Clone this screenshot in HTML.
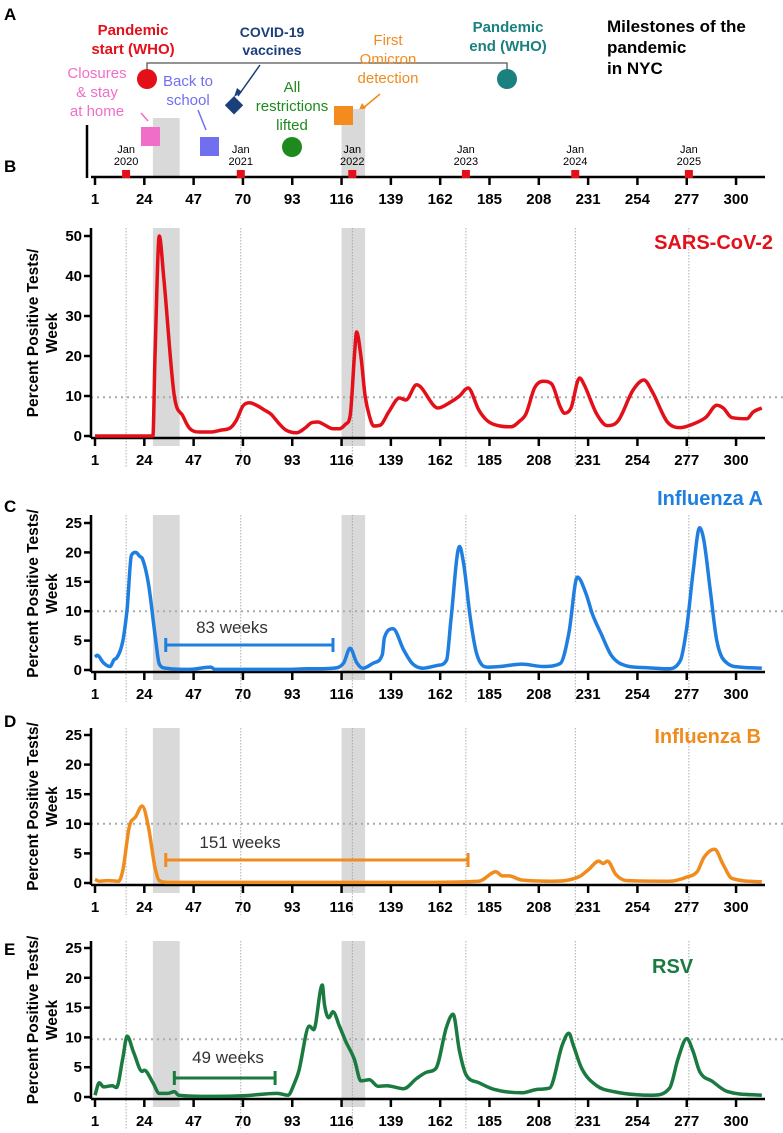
<!DOCTYPE html>
<html><head><meta charset="utf-8"><style>
body{margin:0;background:#fff;}
svg{display:block;font-family:"Liberation Sans",Arial,sans-serif;}
</style></head><body>
<svg id="fig" width="783" height="1133" viewBox="0 0 783 1133" xmlns="http://www.w3.org/2000/svg">
<g id="timeline">
<text x="4" y="20" font-size="17" font-weight="bold">A</text>
<text x="4" y="172" font-size="17" font-weight="bold">B</text>
<text x="607" y="32" font-size="17" font-weight="bold"><tspan x="607">Milestones of the</tspan><tspan x="607" dy="21">pandemic</tspan><tspan x="607" dy="21">in NYC</tspan></text>
<path d="M147 70 V63 H507 V70" stroke="#555" stroke-width="1.3" fill="none"/>
<text x="133" y="35" font-size="15" font-weight="bold" fill="#e3101a" text-anchor="middle"><tspan x="133">Pandemic</tspan><tspan x="133" dy="19">start (WHO)</tspan></text>
<circle cx="147" cy="79" r="10" fill="#e3101a"/>
<text x="508" y="32" font-size="15" font-weight="bold" fill="#1a8080" text-anchor="middle"><tspan x="508">Pandemic</tspan><tspan x="508" dy="19">end (WHO)</tspan></text>
<circle cx="507" cy="79" r="10" fill="#1a8080"/>
<text x="272" y="37" font-size="14" font-weight="bold" fill="#1a3f7a" text-anchor="middle"><tspan x="272">COVID-19</tspan><tspan x="272" dy="18">vaccines</tspan></text>
<path d="M260 65 L238 96" stroke="#1a3f7a" stroke-width="1.5" fill="none"/>
<path d="M234 97 l3 -9 l5 4 z" fill="#1a3f7a"/>
<rect x="227" y="99" width="13" height="13" fill="#1a3f7a" transform="rotate(45 234 106)"/>
<text x="388" y="45" font-size="15" fill="#f08c1e" text-anchor="middle"><tspan x="388">First</tspan><tspan x="388" dy="19">Omicron</tspan><tspan x="388" dy="19">detection</tspan></text>
<path d="M380 94 L362 109" stroke="#f08c1e" stroke-width="1.5"/>
<path d="M358 112 l4 -9 l4 5 z" fill="#f08c1e"/>
<text x="97" y="78" font-size="15" fill="#f06ec8" text-anchor="middle"><tspan x="97">Closures</tspan><tspan x="97" dy="19">&amp; stay</tspan><tspan x="97" dy="19">at home</tspan></text>
<path d="M141 113 L148 121" stroke="#f06ec8" stroke-width="1.5"/>
<text x="188" y="86" font-size="15" fill="#6f6ff0" text-anchor="middle"><tspan x="188">Back to</tspan><tspan x="188" dy="19">school</tspan></text>
<path d="M198 110 L206 130" stroke="#6f6ff0" stroke-width="1.5"/>
<text x="292" y="92" font-size="15" fill="#1e8a1e" text-anchor="middle"><tspan x="292">All</tspan><tspan x="292" dy="19">restrictions</tspan><tspan x="292" dy="19">lifted</tspan></text>
</g>
</svg>
<script>
const weeksSars=[1,28,29,31,33,38,42,45,50,55,60,64,67,70,73,77,80,83,87,90,95,99,102,105,108,112,115,118,120,122,123,125,127,129,131,134,138,143,146,151,159.6,161,166,171,175,180,184,190,195,199,202,206,210,214,218,220,223,227,229,235,240,245,252,257,261,268,274,280,286,291,294,298,305,308,312];
const valuesSars=[0,0,20,50,40,10,5,2,1,1,1.5,2,4,7.5,8.3,7.5,6.5,5.5,3,1.5,0.8,2,3.3,3.5,2.8,1.8,1.8,3,5,20,26,20,10,5,2.5,2.7,6,9.5,9,12.8,7.3,7,8.2,10,12,6.5,3.8,2.5,2.3,3.7,5.5,12,13.7,13,7.3,5.7,7,14.5,13,5.5,2.6,3.8,11.5,14,11,3.5,2.1,3,4.7,7.7,7,4.6,4.3,6,7];
const weeksFluA=[1,2,5,8,10,11,14,16,18,20,22,23,26,29,31,34,45,55,57,70,90,100,112,117,120,123,126,131,135,136,140,145,149,154,161,165,167,171,173,176,179,184,190,200,210,218,222,226,230,233,237,242,249,258,268,274,277,280,283,285,288,291,296,302,312];
const valuesFluA=[2.2,2.5,1.2,0.6,1.8,2,5,10.5,19.5,20,19.3,19,14.5,6,1,0.3,0.1,0.5,0.1,0.1,0.1,0.2,0.3,1.2,3.7,1.3,0.3,1.2,2.6,5.5,7,3.4,1.1,0.3,0.8,1.7,8.5,21,17.9,9,2.8,0.5,0.6,1,0.6,1.1,6.2,15.8,13,9.5,6.2,2.4,0.7,0.4,0.2,1.6,7.2,16.8,24.2,22,13.5,5,1.1,0.5,0.3];
const weeksFluB=[1,3,7,12,14,17,20,23,26,29,31,35,60,100,150,180,188,191,194,200,214,227,231,236,238,240,244,249,269,277,282,285,290,294,298,312];
const valuesFluB=[0.6,0.3,0.4,0.3,2.2,9.5,11.2,13,9.3,2.6,0.4,0.1,0.1,0.1,0.1,0.3,1.9,1.2,1.2,0.5,0.3,1.1,2.2,3.7,3.3,3.7,1.4,0.4,0.3,1,2,4.3,5.7,3.1,0.8,0.2];
const weeksRsv=[1,3,5,9,11,14,16,19,23,24,28,31,35,38,40,55,70,86,91,94,96,101,103,107,108,110,112,115,118,122,125,129,133,137,145,151,156,160,165,168,171,174,180,187,200,208,213,219,222,224,228,235,243,261,269,273,277,280,283,289,296,312];
const valuesRsv=[0.3,2.4,1.7,1.9,1.6,6.6,10.2,7.5,4.3,4.5,2.4,0.6,0.6,0.9,0.3,0.1,0.2,0.6,0.3,2.3,4.3,11.9,11.3,18.8,15.6,13.3,14.3,11.9,9.3,6.3,2.7,2.9,1.8,1.9,1.4,3.1,4.2,4.8,11.8,13.9,7.7,3.8,2.4,1.3,0.7,1.3,1.5,8.8,10.7,8.8,4.8,1.9,0.9,0.3,1.5,6.5,9.8,7.6,4.3,2.6,0.9,0.3];
const xTickLabels=[1,24,47,70,93,116,139,162,185,208,231,254,277,300];
const janLabels=["2020","2021","2022","2023","2024","2025"];
const janWeeks=[15.5,69,121,174,225,278];

const NS="http://www.w3.org/2000/svg";
const svg=document.getElementById('fig');
const X0=95, XS=2.144, AXL=91, AXR=765;
function xs(w){return X0+(w-1)*XS;}
function mk(tag,attrs,parent){const e=document.createElementNS(NS,tag);for(const k in attrs)e.setAttribute(k,attrs[k]);(parent||svg).appendChild(e);return e;}
function monoPath(px,py){
  const n=px.length,d=[],m=new Array(n);
  for(let i=0;i<n-1;i++)d.push((py[i+1]-py[i])/(px[i+1]-px[i]));
  m[0]=d[0];m[n-1]=d[n-2];
  for(let i=1;i<n-1;i++){m[i]=(d[i-1]*d[i]<=0)?0:(d[i-1]+d[i])/2;}
  for(let i=0;i<n-1;i++){
    if(d[i]===0){m[i]=0;m[i+1]=0;continue;}
    const a=m[i]/d[i],b=m[i+1]/d[i],s=a*a+b*b;
    if(s>9){const t=3/Math.sqrt(s);m[i]=t*a*d[i];m[i+1]=t*b*d[i];}
  }
  let p='M'+px[0].toFixed(1)+' '+py[0].toFixed(1);
  for(let i=0;i<n-1;i++){
    const h=(px[i+1]-px[i])/3;
    p+=' C'+(px[i]+h).toFixed(1)+' '+(py[i]+m[i]*h).toFixed(1)+' '+(px[i+1]-h).toFixed(1)+' '+(py[i+1]-m[i+1]*h).toFixed(1)+' '+px[i+1].toFixed(1)+' '+py[i+1].toFixed(1);
  }
  return p;
}
function xAxis(g,yAxis){
  mk('line',{x1:AXL,y1:yAxis,x2:AXR,y2:yAxis,stroke:'#000','stroke-width':2.5},g);
  xTickLabels.forEach(t=>{
    mk('line',{x1:xs(t),y1:yAxis,x2:xs(t),y2:yAxis+8,stroke:'#000','stroke-width':2.5},g);
    const tx=mk('text',{x:xs(t),y:yAxis+27,'font-size':15,'font-weight':'bold','text-anchor':'middle'},g);
    tx.textContent=t;
    
    
  });
}
(function(){
  const g=mk('g',{});
  
  
  mk('rect',{x:xs(28),y:118,width:xs(40.5)-xs(28),height:59,fill:'#d9d9d9'},g);
  mk('rect',{x:xs(116),y:109,width:xs(127)-xs(116),height:68,fill:'#d9d9d9'},g);
  mk('line',{x1:87,y1:125,x2:87,y2:178,stroke:'#000','stroke-width':2.5},g);
  xAxis(g,177);
  janWeeks.forEach((w,i)=>{
    const r=mk('rect',{x:xs(w)-4,y:170,width:8,height:8,fill:'#e3101a'},g);
    
    
    const t=mk('text',{x:xs(w),y:153,'font-size':11,'text-anchor':'middle'},g);
    t.innerHTML='<tspan x="'+xs(w)+'">Jan</tspan><tspan x="'+xs(w)+'" dy="12">'+janLabels[i]+'</tspan>';
    
    
  });
  const p=mk('rect',{x:141,y:127,width:19,height:19,fill:'#f06ec8'},g);
  
  
  const b=mk('rect',{x:200,y:137,width:19,height:19,fill:'#6f6ff0'},g);
  
  
  const o=mk('rect',{x:334,y:106,width:19,height:19,fill:'#f58a1f'},g);
  
  
  const c=mk('circle',{cx:292,cy:147,r:10,fill:'#1e8a1e'},g);
  
  
})();

function panel(o){
  const g=mk('g',{});
  
  
  const ys=v=>o.y0-(v/o.ymax)*(o.y0-o.yTop);
  const top=o.axTop, base=o.y0+2;
  mk('rect',{x:xs(28),y:top,width:xs(40.5)-xs(28),height:base-top+8,fill:'#d9d9d9'},g);
  mk('rect',{x:xs(116),y:top,width:xs(127)-xs(116),height:base-top+8,fill:'#d9d9d9'},g);
  janWeeks.forEach(w=>{mk('line',{x1:xs(w),y1:top,x2:xs(w),y2:base+30,stroke:'#999','stroke-width':0.8,'stroke-dasharray':'1.5 1.5'},g);});
  mk('line',{x1:AXL,y1:ys(o.thr),x2:783,y2:ys(o.thr),stroke:'#aaa','stroke-width':2,'stroke-dasharray':'2 4'},g);
  mk('line',{x1:AXL,y1:top,x2:AXL,y2:base,stroke:'#000','stroke-width':2.5},g);
  o.yticks.forEach(t=>{
    mk('line',{x1:AXL-7,y1:ys(t),x2:AXL,y2:ys(t),stroke:'#000','stroke-width':2.5},g);
    const tx=mk('text',{x:AXL-9,y:ys(t)+5,'font-size':15,'font-weight':'bold','text-anchor':'end'},g);
    tx.textContent=t;
    
    
  });
  xAxis(g,base);
  const cy=(top+base)/2;
  const yl=mk('text',{transform:'translate(46 '+cy+') rotate(-90)','font-size':15.5,'font-weight':'bold','text-anchor':'middle'},g);
  yl.innerHTML='<tspan x="0" y="-8">Percent Positive Tests/</tspan><tspan x="0" dy="19">Week</tspan>';
  
  
  const px=o.weeks.map(xs), py=o.vals.map(ys);
  const line=mk('path',{d:monoPath(px,py),fill:'none',stroke:o.color,'stroke-width':3.5,'stroke-linejoin':'round'},g);
  
  
  const t=mk('text',{x:o.tx,y:o.ty,'font-size':20,'font-weight':'bold',fill:o.color,'text-anchor':o.ta||'end'},g);
  t.textContent=o.title;
  
  
  const L=mk('text',{x:4,y:o.letterY,'font-size':17,'font-weight':'bold'},g);
  L.textContent=o.letter;
  
  
  if(o.bar){
    const [w1,w2,by,lab,lx,ly]=o.bar;
    mk('line',{x1:xs(w1),y1:by,x2:xs(w2),y2:by,stroke:o.color,'stroke-width':3},g);
    mk('line',{x1:xs(w1),y1:by-7,x2:xs(w1),y2:by+7,stroke:o.color,'stroke-width':3},g);
    mk('line',{x1:xs(w2),y1:by-7,x2:xs(w2),y2:by+7,stroke:o.color,'stroke-width':3},g);
    const bt=mk('text',{x:lx,y:ly,'font-size':17,fill:'#333','text-anchor':'middle'},g);
    bt.textContent=lab;
    
    
  }
}
panel({name:'sars-cov-2',title:'SARS-CoV-2',letter:'',letterY:0,color:'#e3101a',weeks:weeksSars,vals:valuesSars,y0:436,yTop:236,ymax:50,axTop:228,yticks:[0,10,20,30,40,50],thr:9.7,tx:773,ty:249});
panel({name:'influenza-a',title:'Influenza A',letter:'C',letterY:512,color:'#1f7fe0',weeks:weeksFluA,vals:valuesFluA,y0:670,yTop:523,ymax:25,axTop:515,yticks:[0,5,10,15,20,25],thr:10,tx:763,ty:505,bar:[34,112,645,'83 weeks',232,633]});
panel({name:'influenza-b',title:'Influenza B',letter:'D',letterY:727,color:'#f08c1e',weeks:weeksFluB,vals:valuesFluB,y0:883,yTop:735,ymax:25,axTop:728,yticks:[0,5,10,15,20,25],thr:10,tx:761,ty:743,bar:[34,175,860,'151 weeks',240,848]});
panel({name:'rsv',title:'RSV',letter:'E',letterY:955,color:'#1a7a40',weeks:weeksRsv,vals:valuesRsv,y0:1097,yTop:948,ymax:25,axTop:941,yticks:[0,5,10,15,20,25],thr:9.7,tx:652,ty:973,ta:'start',bar:[38,85,1078,'49 weeks',228,1063]});
</script>
</body></html>
